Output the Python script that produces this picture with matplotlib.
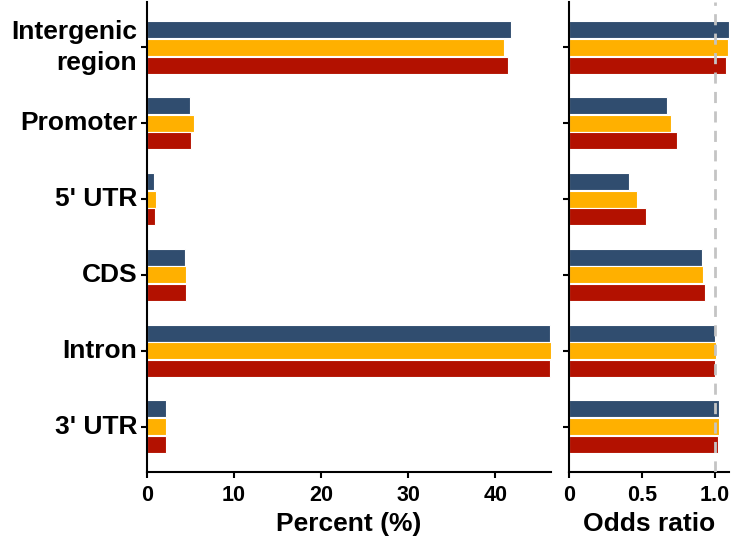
import matplotlib
matplotlib.use("Agg")
import matplotlib.pyplot as plt
import numpy as np

plt.rcParams['font.family'] = ['Liberation Sans', 'DejaVu Sans']
plt.rcParams['font.weight'] = 'bold'

categories = ["Intergenic\nregion", "Promoter", "5' UTR", "CDS", "Intron", "3' UTR"]
series_colors = ["#304d6f", "#ffb000", "#b31100"]

# Percent of elements falling in each genomic feature
percent_a = [41.8, 4.9, 0.8, 4.4, 46.3, 2.2]
percent_b = [41.0, 5.4, 1.0, 4.5, 46.4, 2.2]
percent_c = [41.5, 5.1, 0.9, 4.5, 46.3, 2.2]

# Odds ratios per feature
odds_a = [1.096, 0.673, 0.409, 0.909, 1.000, 1.027]
odds_b = [1.089, 0.700, 0.464, 0.916, 1.004, 1.025]
odds_c = [1.075, 0.742, 0.530, 0.929, 1.000, 1.023]

percent = [percent_a, percent_b, percent_c]
odds = [odds_a, odds_b, odds_c]

fig = plt.figure(figsize=(7.31, 5.38), dpi=100)
ax1 = fig.add_axes([0.2011, 0.1227, 0.5527, 0.8736])
ax2 = fig.add_axes([0.7784, 0.1227, 0.2189, 0.8736])

y = np.arange(len(categories))
offsets = [-0.232, 0.0, 0.232]
bar_h = 0.225

for ax, data in ((ax1, percent), (ax2, odds)):
    for vals, off, col in zip(data, offsets, series_colors):
        ax.barh(y + off, vals, height=bar_h, color=col,
                edgecolor="white", linewidth=0.8, zorder=2)
    ax.set_ylim(5.6, -0.6)
    for s in ("top", "right"):
        ax.spines[s].set_visible(False)
    for s in ("left", "bottom"):
        ax.spines[s].set_linewidth(1.5)
    ax.tick_params(axis="both", width=1.5, length=4.5, labelsize=15.5)
    ax.tick_params(axis="x", pad=5)
    ax.tick_params(axis="y", pad=2.5)
    ax.set_yticks(y)

ax1.set_xlim(0, max(max(v) for v in percent))
ax1.set_xticks([0, 10, 20, 30, 40])
ax1.set_yticklabels(categories, fontsize=19, fontweight="bold", linespacing=1.4)
for lab in ax1.get_yticklabels():
    lab.set_verticalalignment("center")
ax1.set_xlabel("Percent (%)", fontsize=19, fontweight="bold", labelpad=4)

ax2.set_xlim(0, max(max(v) for v in odds))
ax2.set_xticks([0, 0.5, 1.0])
ax2.set_xticklabels(["0", "0.5", "1.0"])
ax2.set_yticklabels([])
ax2.axvline(1.0, color="#c4c4c4", linestyle=(0, (4, 3)), linewidth=2, zorder=3)
ax2.set_xlabel("Odds ratio", fontsize=19, fontweight="bold", labelpad=4)

for ax in (ax1, ax2):
    for lab in ax.get_xticklabels():
        lab.set_fontweight("bold")

fig.savefig("out.png", dpi=100)
